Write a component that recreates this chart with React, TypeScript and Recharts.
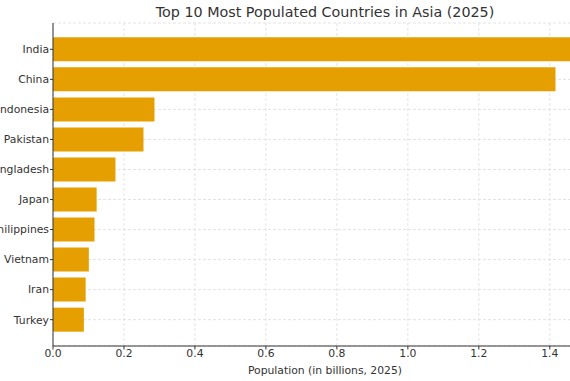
import { BarChart, Bar, XAxis, YAxis, CartesianGrid } from "recharts"

const countries = ["India", "China", "Indonesia", "Pakistan", "Bangladesh", "Japan", "Philippines", "Vietnam", "Iran", "Turkey"]
const population = [1.46, 1.416, 0.286, 0.255, 0.176, 0.123, 0.117, 0.101, 0.092, 0.087]
const xTicks = [0, 0.2, 0.4, 0.6, 0.8, 1.0, 1.2, 1.4]

const data = countries.map((name, i) => ({ name, value: population[i] }))

const font = "'DejaVu Sans', sans-serif"
const ink = "#333333"

export default function App() {
  return (
    <div style={{ position: "absolute", left: 0, top: 0, width: 570, height: 381, overflow: "hidden", background: "#fff" }}>
      {/* title */}
      <div
        style={{
          position: "absolute",
          left: 125,
          top: 4,
          width: 400,
          textAlign: "center",
          fontFamily: font,
          fontSize: 14.3,
          lineHeight: "17px",
          color: ink,
        }}
      >
        Top 10 Most Populated Countries in Asia (2025)
      </div>
      <div style={{ position: "absolute", left: -40, top: 0 }}>
        <BarChart width={640} height={381} data={data} layout="vertical" margin={{ top: 23, right: 3, bottom: 0, left: 0 }}>
          <CartesianGrid stroke="#e3e3e3" strokeDasharray="3 2" />
          <XAxis
            type="number"
            domain={[0, 1.533]}
            ticks={xTicks}
            allowDataOverflow
            height={35}
            tickFormatter={(v: number) => v.toFixed(1)}
            tick={{ fill: ink, fontSize: 10.8, fontFamily: font }}
            tickSize={3.5}
            tickMargin={0}
            stroke={ink}
            label={{ value: "Population (in billions, 2025)", position: "insideBottom", offset: 7, fill: ink, fontSize: 10.8, fontFamily: font }}
          />
          <YAxis
            type="category"
            dataKey="name"
            width={93}
            padding={{ top: 11.3, bottom: 11.3 }}
            tick={{ fill: ink, fontSize: 10.8, fontFamily: font }}
            tickSize={3}
            tickMargin={1}
            stroke={ink}
          />
          <Bar dataKey="value" fill="#E69F00" barSize={24} isAnimationActive={false} />
        </BarChart>
      </div>
    </div>
  )
}
